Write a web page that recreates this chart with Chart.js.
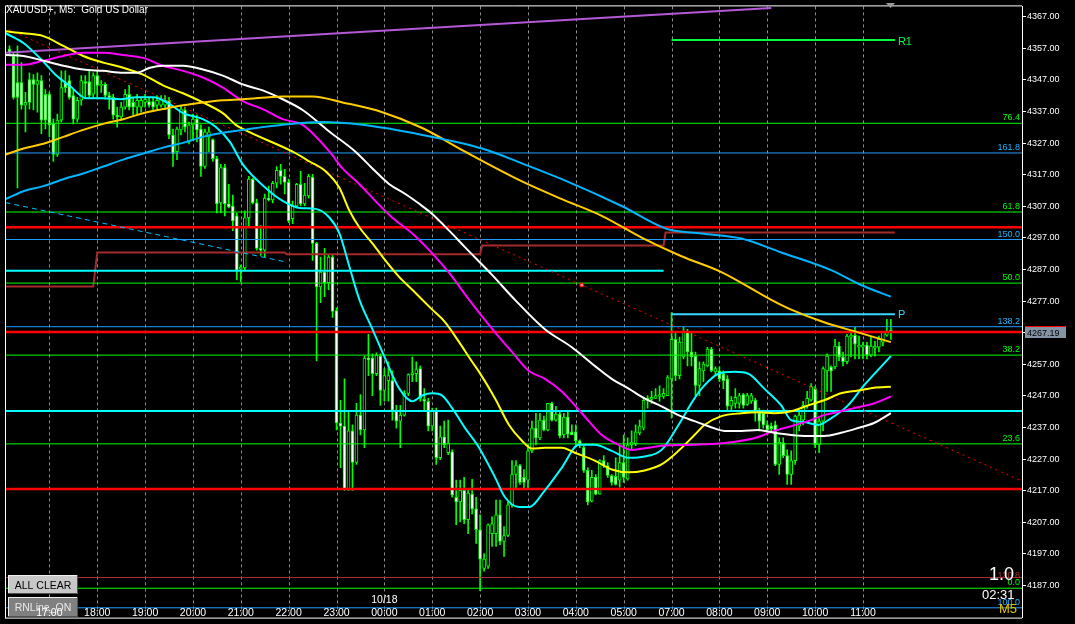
<!DOCTYPE html>
<html>
<head>
<meta charset="utf-8">
<script src="https://cdn.jsdelivr.net/npm/chart.js@4.4.1/dist/chart.umd.min.js"></script>
<style>
  html, body { margin: 0; padding: 0; background: #000; }
  #wrap { width: 1075px; height: 624px; }
</style>
</head>
<body>
<div id="wrap"><canvas id="chart" width="1075" height="624"></canvas></div>
<script>
// XAUUSD+ M5 candles, bar index 0 = 16:10
const candleOpen = [
  4356.8,4354.6,4346.2,4346.2,4339.0,4347.1,4347.1,4345.6,4346.8,4342.5,
  4342.5,4333.1,4323.4,4334.3,4346.2,4346.8,4342.1,4334.6,4340.6,4346.5,
  4346.5,4342.5,4348.4,4345.3,4345.6,4342.1,4341.5,4335.9,4335.3,4338.4,
  4342.5,4339.9,4338.4,4338.4,4339.9,4340.2,4340.2,4339.0,4339.0,4339.0,
  4340.6,4329.6,4324.3,4331.2,4337.5,4327.4,4332.8,4334.6,4331.5,4319.6,
  4329.0,4328.1,4322.1,4308.1,4319.3,4307.8,4307.1,4304.0,4287.1,4287.5,
  4303.4,4315.6,4308.1,4293.7,4293.1,4309.6,4309.0,4314.3,4318.4,4316.5,
  4314.6,4303.1,4307.1,4314.0,4307.8,4310.3,4316.2,4295.3,4281.5,4286.2,
  4282.8,4290.9,4274.0,4238.4,4237.4,4217.4,4235.9,4225.9,4240.9,4236.2,
  4259.0,4259.0,4254.0,4259.6,4248.7,4251.8,4251.8,4242.5,4239.0,4240.9,
  4247.8,4253.7,4254.0,4255.6,4245.9,4245.3,4237.4,4242.1,4227.4,4234.0,
  4229.0,4229.3,4214.9,4213.4,4217.1,4207.8,4215.9,4211.2,4204.6,4192.4,
  4193.1,4203.4,4203.4,4209.3,4200.9,4202.8,4212.5,4222.1,4224.9,4221.2,
  4220.3,4229.6,4236.8,4233.7,4239.3,4236.2,4244.6,4239.3,4241.2,4234.6,
  4240.3,4235.6,4235.6,4232.8,4230.6,4223.4,4213.7,4221.2,4215.9,4226.5,
  4224.9,4221.8,4221.5,4220.3,4225.9,4220.6,4231.5,4231.8,4235.3,4236.8,
  4245.6,4245.9,4246.2,4246.8,4246.8,4247.1,4252.4,4264.9,4253.4,4259.3,
  4267.1,4260.9,4259.6,4250.3,4254.9,4256.5,4261.8,4254.6,4254.9,4254.0,
  4252.4,4243.7,4244.6,4244.6,4247.4,4244.3,4245.3,4245.6,4242.1,4241.5,
  4237.8,4237.4,4237.8,4225.3,4232.1,4228.1,4222.1,4226.5,4237.4,4239.3,
  4243.7,4245.6,4249.3,4231.5,4239.0,4254.9,4256.2,4256.2,4262.8,4259.3,
  4257.8,4265.6,4266.2,4262.4,4262.4,4263.1,4259.9,4262.1,4262.4,4264.0,
  4266.2,4267.8
];
const candleHigh = [
  4357.8,4355.6,4357.8,4352.5,4343.1,4349.3,4348.7,4349.3,4348.4,4344.0,
  4343.1,4334.6,4336.2,4349.9,4349.9,4348.4,4344.0,4341.5,4348.4,4348.4,
  4350.3,4349.3,4349.9,4346.8,4346.2,4343.1,4342.5,4338.4,4339.9,4344.0,
  4345.3,4341.5,4342.5,4341.5,4342.5,4341.5,4341.5,4342.1,4342.1,4342.1,
  4341.5,4331.5,4332.1,4339.0,4338.4,4333.7,4336.2,4335.9,4332.8,4331.5,
  4332.1,4328.4,4322.8,4320.3,4320.3,4314.0,4310.6,4304.9,4288.4,4305.6,
  4316.5,4315.9,4309.3,4300.9,4310.9,4313.4,4314.9,4319.6,4320.3,4318.7,
  4315.6,4308.7,4314.3,4318.1,4314.3,4317.1,4317.1,4295.6,4290.9,4293.7,
  4291.5,4291.5,4274.9,4245.6,4252.4,4242.1,4237.8,4244.6,4247.4,4259.6,
  4266.5,4260.3,4260.6,4260.3,4255.6,4257.8,4254.9,4244.0,4244.0,4248.7,
  4254.0,4259.3,4257.8,4256.5,4249.3,4246.2,4243.1,4243.1,4237.4,4239.0,
  4239.3,4229.9,4220.3,4220.3,4221.2,4217.1,4220.6,4214.9,4209.3,4197.1,
  4206.5,4208.7,4214.0,4214.0,4205.6,4213.4,4226.5,4226.5,4225.3,4223.7,
  4231.5,4239.0,4241.5,4241.5,4240.6,4244.6,4245.0,4243.7,4242.1,4241.5,
  4242.1,4237.8,4237.8,4233.1,4231.2,4224.3,4223.4,4222.1,4226.8,4228.1,
  4225.9,4222.1,4227.4,4231.5,4234.6,4233.7,4235.9,4237.8,4239.3,4246.2,
  4247.1,4248.4,4249.3,4250.2,4249.3,4253.4,4273.4,4267.1,4265.6,4268.7,
  4268.1,4267.1,4260.9,4257.8,4257.8,4262.4,4262.4,4256.2,4256.2,4254.9,
  4253.4,4246.8,4249.3,4247.8,4247.8,4247.8,4247.8,4246.2,4243.1,4242.5,
  4239.0,4238.4,4239.0,4233.7,4233.7,4229.9,4229.6,4240.9,4242.1,4245.3,
  4248.4,4250.9,4249.9,4239.9,4256.2,4260.3,4256.5,4264.9,4264.0,4260.9,
  4266.5,4267.1,4268.7,4265.9,4264.0,4264.0,4265.6,4264.3,4265.9,4267.4,
  4271.2,4271.2
];
const candleLow = [
  4355.0,4340.9,4312.8,4337.8,4330.6,4337.8,4337.5,4336.8,4330.0,4331.5,
  4329.0,4321.2,4322.8,4333.7,4343.1,4340.9,4333.1,4333.7,4339.0,4341.5,
  4341.5,4341.5,4341.5,4343.1,4340.9,4337.8,4334.6,4332.1,4334.3,4337.8,
  4337.5,4335.9,4335.9,4336.8,4338.4,4338.4,4337.5,4337.8,4338.4,4337.8,
  4328.4,4319.6,4321.8,4329.6,4330.6,4326.8,4328.4,4327.4,4316.5,4319.0,
  4324.3,4321.2,4304.9,4304.9,4304.0,4306.5,4299.3,4283.7,4283.1,4286.8,
  4300.3,4307.8,4293.1,4291.5,4290.9,4308.7,4308.1,4312.8,4314.0,4310.9,
  4301.8,4301.5,4306.5,4307.1,4307.1,4309.6,4289.9,4258.1,4276.5,4278.4,
  4280.6,4271.8,4236.2,4224.3,4217.1,4217.1,4217.1,4225.3,4234.6,4230.6,
  4253.4,4247.1,4253.4,4244.0,4245.3,4245.3,4239.3,4236.8,4230.6,4240.6,
  4247.1,4251.5,4251.5,4245.3,4242.1,4235.9,4235.9,4225.3,4226.8,4230.6,
  4228.4,4214.9,4206.2,4207.1,4206.5,4203.4,4209.6,4200.3,4185.3,4191.5,
  4192.4,4199.3,4199.3,4199.9,4196.2,4202.4,4211.8,4217.4,4219.0,4217.4,
  4217.4,4229.0,4231.5,4233.1,4235.9,4235.9,4239.0,4239.0,4233.7,4233.7,
  4233.7,4234.6,4231.5,4230.6,4222.8,4212.5,4213.4,4215.6,4215.9,4224.3,
  4221.2,4218.7,4218.7,4218.1,4219.6,4220.3,4229.9,4231.2,4234.6,4236.2,
  4243.1,4244.6,4246.2,4245.3,4246.2,4247.1,4239.9,4251.8,4252.4,4258.7,
  4256.5,4256.5,4247.1,4247.1,4251.5,4256.2,4254.6,4253.4,4251.5,4249.3,
  4242.5,4242.1,4243.1,4243.1,4243.1,4244.0,4244.6,4239.0,4235.9,4236.8,
  4234.6,4235.9,4224.9,4222.1,4227.4,4219.0,4219.0,4225.3,4235.9,4237.8,
  4243.1,4245.3,4230.6,4229.0,4235.9,4248.4,4248.4,4255.6,4258.1,4256.5,
  4257.1,4259.3,4258.7,4258.7,4258.7,4258.7,4259.3,4259.6,4260.9,4262.8,
  4265.9,4264.9
];
const candleClose = [
  4355.6,4341.5,4341.5,4339.0,4339.9,4339.9,4345.6,4346.8,4334.3,4334.3,
  4332.8,4323.4,4334.3,4344.6,4344.6,4341.5,4334.6,4340.6,4346.8,4345.9,
  4342.1,4348.4,4345.3,4345.6,4342.1,4341.5,4335.9,4335.3,4338.4,4342.5,
  4338.4,4338.4,4340.6,4340.6,4340.9,4339.0,4338.4,4340.6,4340.9,4340.6,
  4329.6,4323.7,4331.5,4337.8,4332.1,4332.8,4334.6,4331.2,4319.6,4330.6,
  4330.6,4322.1,4307.8,4319.3,4307.8,4306.8,4302.4,4286.8,4287.8,4303.4,
  4315.6,4308.1,4293.7,4293.1,4309.6,4309.0,4314.3,4318.4,4316.5,4314.6,
  4302.4,4307.1,4314.0,4307.8,4310.6,4316.5,4295.3,4281.5,4286.2,4282.8,
  4290.9,4273.7,4238.4,4237.4,4217.4,4235.9,4225.9,4240.9,4236.2,4259.0,
  4258.4,4254.0,4259.9,4248.7,4253.4,4253.4,4242.5,4239.0,4240.9,4247.8,
  4253.7,4254.3,4255.3,4246.2,4245.3,4237.4,4242.1,4227.4,4234.0,4231.5,
  4232.1,4215.6,4213.4,4217.1,4207.8,4216.2,4211.2,4204.6,4195.3,4195.3,
  4206.2,4206.5,4209.3,4200.9,4202.8,4212.5,4222.1,4224.9,4219.6,4219.6,
  4229.6,4236.8,4233.7,4239.3,4236.2,4244.6,4239.3,4241.2,4234.3,4240.3,
  4234.9,4234.6,4232.8,4231.5,4223.4,4213.4,4221.2,4215.9,4226.5,4224.9,
  4221.8,4219.6,4219.0,4225.9,4221.2,4231.5,4232.4,4235.6,4237.4,4245.6,
  4246.2,4246.5,4247.1,4247.4,4247.8,4252.8,4264.9,4253.4,4264.0,4267.4,
  4260.9,4259.3,4250.3,4255.6,4257.1,4261.8,4254.9,4255.6,4252.4,4251.8,
  4243.7,4245.6,4246.5,4247.1,4244.0,4247.1,4247.1,4242.1,4239.0,4237.8,
  4236.2,4236.5,4225.3,4232.4,4228.1,4222.1,4226.5,4240.6,4240.9,4244.0,
  4246.2,4249.9,4231.5,4239.0,4255.6,4259.6,4254.9,4262.8,4259.3,4257.8,
  4265.9,4266.2,4263.4,4263.1,4263.1,4259.9,4262.8,4262.8,4264.9,4267.1,
  4267.1,4267.19
];

// moving averages: [bar, price]
const maCyan = [[-1,4361.8],[3.5,4358.7],[8.5,4352.8],[11.75,4348.4],[15.25,4345.0],[19.25,4341.2],[23.5,4341.2],[27.75,4340.9],[31.75,4341.5],[36,4341.5],[40.25,4339.3],[43.5,4336.5],[48.5,4334.6],[51.75,4332.1],[55.25,4327.4],[58.5,4320.3],[64.25,4312.8],[68.5,4308.7],[72.75,4306.5],[76.75,4306.2],[80.25,4303.4],[82.75,4298.4],[85.25,4287.8],[87.75,4277.4],[91,4268.1],[94.25,4258.7],[97.75,4249.3],[101,4245.3],[103.5,4247.1],[106,4247.8],[108.5,4247.1],[111,4243.1],[114.25,4236.8],[117.75,4230.6],[121.75,4221.2],[124.25,4214.9],[127.75,4211.8],[130.25,4211.8],[134.25,4217.1],[138.5,4224.3],[142.75,4231.5],[146.75,4231.5],[151,4229.6],[155.25,4227.4],[159.25,4227.8],[163.5,4229.9],[167.75,4237.8],[171.75,4246.2],[174.25,4250.3],[177.75,4254.0],[181.75,4254.6],[185.25,4254.0],[189.25,4249.3],[193.5,4244.0],[196,4239.3],[199.25,4238.7],[202.75,4237.8],[206,4239.9],[210.25,4244.0],[214.25,4250.3],[218.5,4256.2],[221,4259.6]];
const maYellow = [[-1,4362.4],[3.5,4361.8],[8.5,4360.9],[13.5,4357.8],[18.5,4354.6],[23.5,4352.5],[28.5,4350.9],[33.5,4348.7],[38.5,4345.3],[43.5,4342.8],[48.5,4339.9],[53.5,4336.5],[56.75,4332.8],[58.5,4331.5],[71,4324.3],[75.25,4321.2],[79.25,4318.1],[82.75,4312.8],[85.25,4305.6],[87.75,4300.3],[91,4295.3],[94.25,4289.9],[97.75,4284.6],[101,4280.6],[106,4274.3],[109.25,4270.3],[112.75,4264.0],[116,4257.8],[117.75,4254.6],[121.75,4246.2],[125.25,4237.8],[128.5,4232.8],[131,4230.3],[134.25,4230.6],[138.5,4230.6],[141.75,4229.0],[146.75,4226.5],[151,4223.7],[155.25,4222.8],[159.25,4223.4],[163.5,4225.3],[167.75,4229.6],[171.75,4234.6],[174.25,4237.8],[178.5,4240.6],[183.5,4241.5],[187.75,4241.8],[191.75,4241.5],[196,4242.1],[200.25,4244.0],[204.25,4245.6],[208.5,4247.8],[212.75,4248.7],[216.75,4249.6],[221,4249.9]];
const maMagenta = [[-1,4351.8],[3.5,4351.8],[8.5,4353.1],[13.5,4354.6],[18.5,4355.6],[23.5,4355.6],[28.5,4354.9],[33.5,4354.0],[38.5,4351.5],[43.5,4349.9],[48.5,4347.8],[53.5,4344.6],[58.5,4340.3],[63.5,4337.8],[68.5,4334.6],[73.5,4332.8],[80.25,4324.3],[83.5,4319.0],[87.75,4314.0],[91.75,4308.7],[96,4303.4],[101,4298.4],[106,4292.1],[110.25,4285.9],[115.25,4277.4],[121.75,4267.1],[126,4260.9],[130.25,4254.9],[134.25,4252.4],[138.5,4248.4],[141.75,4244.0],[145.25,4239.0],[148.5,4234.6],[152.75,4231.5],[156,4229.9],[160.25,4230.6],[163.5,4231.2],[171,4231.5],[179.25,4232.1],[183.5,4232.8],[187.75,4234.0],[191.75,4235.9],[196,4237.4],[200.25,4239.0],[204.25,4240.9],[208.5,4242.1],[212.75,4243.4],[216.75,4244.6],[221,4246.8]];
const maWhite = [[-1,4354.9],[3.5,4354.6],[8.5,4353.1],[13.5,4351.5],[18.5,4350.3],[23.5,4349.9],[28.5,4349.3],[31.75,4349.3],[35.25,4350.9],[38.5,4351.5],[43.5,4351.5],[48.5,4350.3],[53.5,4348.4],[58.5,4345.6],[63.5,4343.7],[68.5,4340.9],[73.5,4337.5],[80.25,4330.6],[86.75,4324.3],[91,4319.0],[95.25,4314.0],[99.25,4310.9],[102.75,4307.8],[106,4304.6],[110.25,4299.3],[114.25,4294.0],[121,4285.3],[126.75,4277.4],[134.25,4268.1],[141,4262.4],[146.75,4256.5],[151,4252.4],[155.25,4249.3],[159.25,4246.2],[163.5,4243.7],[167.75,4240.9],[171.75,4239.0],[175.25,4237.4],[179.25,4235.9],[183.5,4235.9],[187.75,4236.2],[191.75,4235.3],[196,4234.6],[200.25,4234.3],[204.25,4234.3],[208.5,4235.3],[212.75,4236.8],[216.75,4238.4],[221,4241.5]];
const maGold = [[-1,4323.4],[3.5,4325.3],[8.5,4326.8],[13.5,4329.0],[18.5,4331.2],[23.5,4333.1],[28.5,4334.6],[33.5,4336.5],[38.5,4337.8],[43.5,4339.0],[48.5,4339.9],[53.5,4340.6],[58.5,4340.9],[68.5,4341.8],[76,4341.8],[83.5,4339.9],[93.5,4336.8],[103.5,4331.8],[114.25,4324.3],[128.5,4314.9],[138.5,4309.3],[148.5,4304.0],[158.5,4297.1],[168.5,4291.2],[178.5,4286.2],[191,4277.4],[196,4274.3],[204.25,4270.3],[212.75,4267.1],[221,4264.0]];
const maSky = [[-1,4309.3],[3.5,4311.8],[8.5,4313.4],[13.5,4315.6],[18.5,4317.4],[23.5,4319.6],[28.5,4321.8],[33.5,4323.7],[38.5,4325.6],[43.5,4327.1],[48.5,4329.0],[53.5,4330.3],[58.5,4331.2],[68.5,4332.8],[78.5,4333.7],[88.5,4332.8],[103.5,4329.6],[118.5,4325.3],[128.5,4320.6],[138.5,4315.6],[153.5,4307.1],[164.75,4299.9],[173.5,4298.4],[183.5,4296.8],[193.5,4292.4],[206,4286.8],[213.5,4282.1],[221,4278.4]];

// step line (brown)
const stepLine = [[-2,4281.6],[21,4281.6],[22,4292.4],[69,4292.4],[69.5,4291.8],[118,4291.8],[118.5,4294.6],[164,4294.6],[164.5,4298.7],[222,4298.7]];
// trend lines
const trendPurple = [[-1.5,4355.6],[191,4369.8]];
const trendRed = [[-1.5,4363.7],[254,4219.9]];
const trendSky = [[-1,4308.2],[69.25,4289.4]];
const trendMarker = [[143.5,4282.1]];

// levels
const fibGreen = [4333.3, 4305.2, 4282.7, 4259.9, 4231.8, 4186.1];
const fibGreenLabels = ['76.4', '61.8', '50.0', '38.2', '23.6', '0.0'];
const fibBlue = [4323.9, 4296.5, 4268.9, 4179.9];
const fibBlueLabels = ['161.8', '150.0', '138.2', '100.0'];
const redLevels = [4300.4, 4267.2, 4217.5];
const cyanLevels = [4286.6, 4242.2];
const cyanLevelEnd = [164, 260];
const brownLevel = 4189.5;
const pivotR1 = 4359.7;
const pivotP = 4272.8;
const pivotSpan = [166, 222];
const lastPrice = 4267.19;

// axes
const hourTicks = [10, 22, 34, 46, 58, 70, 82, 94, 106, 118, 130, 142, 154, 166, 178, 190, 202, 214];
const hourLabels = ['17:00', '18:00', '19:00', '20:00', '21:00', '22:00', '23:00', '00:00', '01:00', '02:00', '03:00', '04:00', '05:00', '07:00', '08:00', '09:00', '10:00', '11:00'];
const priceTicks = [4187, 4197, 4207, 4217, 4227, 4237, 4247, 4257, 4267, 4277, 4287, 4297, 4307, 4317, 4327, 4337, 4347, 4357, 4367];

const FONT = 'Liberation Sans';
const xMin = -1.125, xMax = 253.875;

const pts = arr => arr.map(p => ({ x: p[0], y: p[1] }));

function lineSet(arr, color, width, extra) {
  return Object.assign({
    type: 'line',
    data: pts(arr),
    borderColor: color,
    backgroundColor: color,
    borderWidth: width,
    pointRadius: 0,
    fill: false,
    order: 5
  }, extra || {});
}

function level(price, color, width, from, to, order) {
  return lineSet([[from, price], [to, price]], color, width, { order: order || 6 });
}

const bull = candleOpen.map((o, i) => candleClose[i] >= o);

const datasets = [];

// levels
fibGreen.forEach(v => datasets.push(level(v, '#00ff00', 1, -5, 260)));
fibBlue.forEach(v => datasets.push(level(v, '#1e9cff', 1, -5, 260)));
redLevels.forEach(v => datasets.push(level(v, '#ff0000', 2.5, -5, 260)));
cyanLevels.forEach((v, i) => datasets.push(level(v, '#00ffff', 2, -5, cyanLevelEnd[i])));
datasets.push(level(brownLevel, '#a83232', 1, -5, 260));
datasets.push(level(pivotR1, '#00ff40', 2, pivotSpan[0], pivotSpan[1]));
datasets.push(level(pivotP, '#38d8ff', 2, pivotSpan[0], pivotSpan[1]));

// trend lines and steps
datasets.push(lineSet(stepLine, '#a52a2a', 2, { order: 6 }));
datasets.push(lineSet(trendPurple, '#b558d6', 2, { order: 4 }));
datasets.push(lineSet(trendRed, '#ff0000', 1, { order: 4, borderDash: [2, 4] }));
datasets.push(lineSet(trendSky, '#00bfff', 1, { order: 4, borderDash: [5, 4] }));
datasets.push(lineSet(trendMarker, '#ff0000', 1, {
  order: 3, pointRadius: 2.5, pointStyle: 'rect',
  pointBackgroundColor: '#ff9090', pointBorderColor: '#ff0000', pointBorderWidth: 1, showLine: false
}));

// moving averages
const maOpts = { order: 2, cubicInterpolationMode: 'monotone' };
datasets.push(lineSet(maSky, '#00b4ff', 2, maOpts));
datasets.push(lineSet(maGold, '#ffcc00', 2, maOpts));
datasets.push(lineSet(maWhite, '#ffffff', 2, maOpts));
datasets.push(lineSet(maMagenta, '#ff00ff', 2, maOpts));
datasets.push(lineSet(maYellow, '#ffff00', 2, maOpts));
datasets.push(lineSet(maCyan, '#00ffff', 2, maOpts));

// candles
datasets.push({
  type: 'bar',
  data: candleOpen.map((o, i) => ({ x: i, y: [candleLow[i], candleHigh[i]] })),
  backgroundColor: '#00ff00',
  barThickness: 1,
  grouped: false,
  order: 21
});
datasets.push({
  type: 'bar',
  data: candleOpen.map((o, i) => ({ x: i, y: [Math.min(o, candleClose[i]), Math.max(o, candleClose[i])] })),
  backgroundColor: bull.map(b => b ? '#000000' : '#ffffff'),
  borderColor: '#00ff00',
  borderWidth: 1,
  borderSkipped: false,
  barThickness: 3,
  minBarLength: 1,
  grouped: false,
  order: 20
});

function text(ctx, str, x, y, color, size, align) {
  ctx.fillStyle = color;
  ctx.font = size + 'px "' + FONT + '"';
  ctx.textAlign = align || 'left';
  ctx.textBaseline = 'alphabetic';
  ctx.fillText(str, x, y);
}

function button(ctx, x, y, w, h, face, label, color) {
  ctx.fillStyle = face;
  ctx.fillRect(x, y, w, h);
  ctx.strokeStyle = '#f0f0f0';
  ctx.beginPath();
  ctx.moveTo(x + 0.5, y + h); ctx.lineTo(x + 0.5, y + 0.5); ctx.lineTo(x + w, y + 0.5);
  ctx.stroke();
  ctx.strokeStyle = '#505050';
  ctx.beginPath();
  ctx.moveTo(x + w - 0.5, y); ctx.lineTo(x + w - 0.5, y + h - 0.5); ctx.lineTo(x, y + h - 0.5);
  ctx.stroke();
  text(ctx, label, x + w / 2, y + h / 2 + 4, color, 10.5, 'center');
}

const hourMap = {};
hourTicks.forEach((t, i) => { hourMap[t] = hourLabels[i]; });

const overlay = {
  id: 'overlay',
  beforeDatasetsDraw(chart) {
    // hourly dashed grid at the x axis ticks
    const { ctx, chartArea: a, scales } = chart;
    const x = scales.x;
    ctx.save();
    ctx.strokeStyle = '#8c8c8c';
    ctx.lineWidth = 1;
    ctx.setLineDash([3, 3]);
    x.ticks.forEach(t => {
      const px = Math.round(x.getPixelForValue(t.value)) + 0.5;
      ctx.beginPath();
      ctx.moveTo(px, a.top);
      ctx.lineTo(px, a.bottom);
      ctx.stroke();
    });
    ctx.restore();
  },
  afterDatasetsDraw(chart) {
    const { ctx, chartArea: a, scales } = chart;
    const x = scales.x, y = scales.y;
    ctx.save();
    // frame
    ctx.strokeStyle = '#ffffff';
    ctx.lineWidth = 1;
    ctx.beginPath();
    ctx.moveTo(a.left + 0.5, a.bottom + 0.5);
    ctx.lineTo(a.left + 0.5, a.top - 0.5);
    ctx.lineTo(a.right, a.top - 0.5);
    ctx.moveTo(a.left, a.bottom + 0.5);
    ctx.lineTo(a.right, a.bottom + 0.5);
    ctx.stroke();

    // title
    text(ctx, 'XAUUSD+, M5:  Gold US Dollar', 6, 13, '#ffffff', 10);

    // fibo labels
    fibGreen.forEach((v, i) => text(ctx, fibGreenLabels[i], a.right - 2, y.getPixelForValue(v) - 3, '#00ff00', 9, 'right'));
    fibBlue.forEach((v, i) => text(ctx, fibBlueLabels[i], a.right - 2, y.getPixelForValue(v) - 3, '#1eb4ff', 9, 'right'));

    // pivot labels
    const px = x.getPixelForValue(pivotSpan[1]) + 3;
    text(ctx, 'R1', px, y.getPixelForValue(pivotR1) + 5, '#00ff40', 11);
    text(ctx, 'P', px, y.getPixelForValue(pivotP) + 4, '#38d8ff', 11);

    // bottom right info
    text(ctx, '120.8', a.right - 2, 578, '#a83232', 9, 'right');
    text(ctx, '1.0', a.right - 8, 580, '#ffffff', 18, 'right');
    text(ctx, '02:31', 982, 599, '#ffffff', 13);
    text(ctx, 'M5', 999, 613, '#e6c000', 13);

    // shift marker
    ctx.fillStyle = '#9a9a9a';
    ctx.beginPath();
    ctx.moveTo(886, 3); ctx.lineTo(895, 3); ctx.lineTo(890.5, 8);
    ctx.fill();

    // buttons
    button(ctx, 8, 575, 70, 19, '#c8c8c8', 'ALL CLEAR', '#000000');
    button(ctx, 8, 597, 70, 20, '#808080', 'RNLine_ON', '#e8e8e8');
    ctx.restore();
  },
  afterDraw(chart) {
    const { ctx, chartArea: a, scales } = chart;
    const x = scales.x;
    ctx.save();
    // time labels from the x axis ticks
    x.ticks.forEach(t => {
      const lbl = hourMap[t.value];
      if (lbl) text(ctx, lbl, x.getPixelForValue(t.value), 616, '#ffffff', 10.5, 'center');
    });
    text(ctx, '10/18', x.getPixelForValue(94), 603, '#ffffff', 10.5, 'center');

    // last price tag
    const yy = Math.round(scales.y.getPixelForValue(lastPrice));
    ctx.fillStyle = '#8494a6';
    ctx.fillRect(a.right + 3, yy - 5, 41, 11);
    ctx.strokeStyle = '#ff0000';
    ctx.beginPath();
    ctx.moveTo(a.right + 3, yy - 5.5);
    ctx.lineTo(a.right + 44, yy - 5.5);
    ctx.stroke();
    text(ctx, lastPrice.toFixed(2), a.right + 5, yy + 4, '#000000', 9);
    ctx.restore();
  }
};

new Chart(document.getElementById('chart'), {
  type: 'bar',
  data: { datasets },
  plugins: [overlay],
  options: {
    responsive: false,
    animation: false,
    events: [],
    layout: { padding: { left: 2, top: 3, right: 0, bottom: 2 } },
    plugins: { legend: { display: false }, tooltip: { enabled: false } },
    scales: {
      x: {
        type: 'linear', min: xMin, max: xMax, offset: false,
        afterBuildTicks: s => { s.ticks = hourTicks.map(v => ({ value: v })); },
        afterFit: s => { s.height = 0; },
        grid: { display: false },
        border: { display: false },
        ticks: { display: false }
      },
      y: {
        position: 'right', min: 4176.8, max: 4370.3,
        afterBuildTicks: s => { s.ticks = priceTicks.map(v => ({ value: v })); },
        afterFit: s => { s.width = 53; },
        grid: { drawOnChartArea: false, drawTicks: true, tickLength: 4, color: '#ffffff' },
        border: { display: true, color: '#ffffff' },
        ticks: { color: '#ffffff', font: { family: FONT, size: 9 }, padding: 1, callback: v => v.toFixed(2) }
      }
    }
  }
});
</script>
</body>
</html>
